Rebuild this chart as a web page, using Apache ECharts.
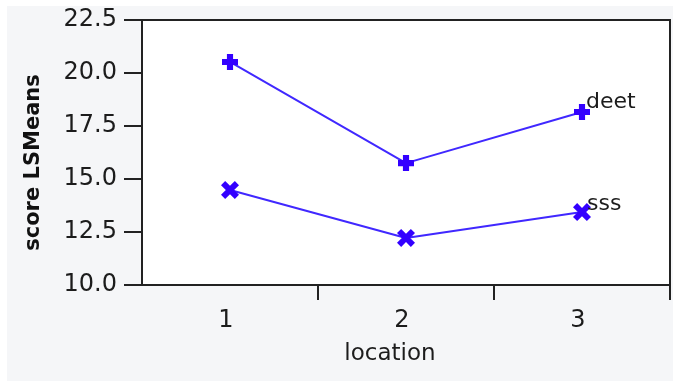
<!DOCTYPE html>
<html>
<head>
<meta charset="utf-8">
<script src="https://cdn.jsdelivr.net/npm/echarts@6/dist/echarts.min.js"></script>
<style>
html,body{margin:0;padding:0;background:#fff;}
#c{width:673px;height:382px;}
</style>
</head>
<body>
<div id="c"></div>
<script>
var categories = ['1', '2', '3'];
var deetValues = [20.52, 15.75, 18.16];
var sssValues = [14.48, 12.22, 13.44];
var seriesNames = ['deet', 'sss'];
var yMin = 10, yMax = 22.5, yStep = 2.5;

var chart = echarts.init(document.getElementById('c'), null, {renderer: 'canvas'});
var FONT = 'DejaVu Sans';
var txt = '#1c1c1c';
var plusPath = 'path://M4,0H9V4H13V9H9V13H4V9H0V4H4Z';
var crossPath = 'path://M0,3L3,0L6.5,3.5L10,0L13,3L9.5,6.5L13,10L10,13L6.5,9.5L3,13L0,10L3.5,6.5Z';

function mkSeries(name, data, symbol, size, lblOffset) {
  return {
    name: name,
    type: 'line',
    data: data.map(function (v, i) {
      var o = {value: v};
      if (i === data.length - 1) {
        o.label = {show: true, formatter: name, position: 'right', distance: 0,
          offset: lblOffset, color: txt, fontFamily: FONT, fontSize: 22};
      }
      return o;
    }),
    symbol: symbol,
    symbolSize: size,
    showSymbol: true,
    itemStyle: {color: '#3300ff'},
    lineStyle: {color: '#4028ff', width: 2},
    z: 3
  };
}

chart.setOption({
  animation: false,
  backgroundColor: '#fff',
  graphic: [{
    type: 'rect', z: -10, silent: true,
    shape: {x: 7, y: 6, width: 666, height: 375},
    style: {fill: '#f5f6f8'}
  }],
  grid: {
    left: 142, top: 20, right: 3, bottom: 97,
    show: true, backgroundColor: '#ffffff', borderColor: '#222', borderWidth: 2
  },
  xAxis: {
    type: 'category',
    data: categories,
    boundaryGap: true,
    name: 'location',
    nameLocation: 'middle',
    nameGap: 58,
    nameTextStyle: {color: txt, fontFamily: FONT, fontSize: 23, padding: [0, 32, 0, 0]},
    axisLine: {lineStyle: {color: '#222', width: 2}},
    axisTick: {show: true, length: 15, lineStyle: {color: '#222', width: 2},
      interval: function (i) { return i !== 0; }},
    axisLabel: {color: txt, fontFamily: FONT, fontSize: 24, margin: 24, padding: [0, 8, 0, 0]},
    splitLine: {show: false}
  },
  yAxis: {
    type: 'value',
    min: yMin, max: yMax, interval: yStep,
    name: 'score LSMeans',
    nameLocation: 'middle',
    nameGap: 98,
    nameRotate: 90,
    nameTextStyle: {color: '#111', fontFamily: FONT, fontSize: 21, fontWeight: 'bold', padding: [0, 20, 0, 0]},
    axisLine: {show: true, lineStyle: {color: '#222', width: 2}},
    axisTick: {show: true, length: 18, lineStyle: {color: '#222', width: 2}},
    axisLabel: {color: txt, fontFamily: FONT, fontSize: 24, margin: 25,
      formatter: function (v) { return v.toFixed(1); }},
    splitLine: {show: false}
  },
  series: [
    mkSeries(seriesNames[0], deetValues, plusPath, 16, [-4, -10]),
    mkSeries(seriesNames[1], sssValues, crossPath, 18, [-4, -8])
  ]
});
</script>
</body>
</html>
